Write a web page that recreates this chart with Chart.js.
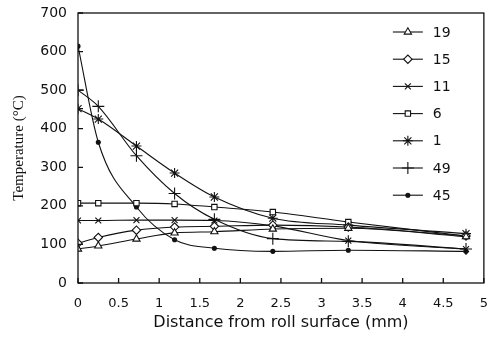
<!DOCTYPE html>
<html>
<head>
<meta charset="utf-8">
<script src="https://cdn.jsdelivr.net/npm/chart.js@4.4.1/dist/chart.umd.min.js"></script>
<style>
  body { margin: 0; background: #fff; }
</style>
</head>
<body>
<canvas id="myChart" width="493" height="338"></canvas>
<script>
// distance from roll surface (mm) where temperatures were taken
const distances = [0, 0.25, 0.72, 1.19, 1.68, 2.4, 3.33, 4.78];

const labels = ["19", "15", "11", "6", "1", "49", "45"];

const t19 = [88, 96, 114, 130, 133, 140, 142, 120];
const t15 = [103, 118, 137, 145, 147, 150, 145, 122];
const t11 = [162, 162, 163, 163, 162, 148, 110, 88];
const t6  = [207, 207, 207, 205, 197, 184, 158, 122];
const t1  = [452, 425, 355, 285, 223, 168, 150, 128];
const t49 = [500, 458, 330, 232, 165, 115, 108, 88];
const t45 = [614, 365, 197, 112, 90, 82, 85, 82];

const xTicks = [0, 0.5, 1, 1.5, 2, 2.5, 3, 3.5, 4, 4.5, 5];
const yTicks = [0, 100, 200, 300, 400, 500, 600, 700];

const seriesValues = [t19, t15, t11, t6, t1, t49, t45];
const markers = ["triangle", "rectRot", "crossRot", "rect", "star", "cross", "circle"];
const markerSize = [4.2, 4.2, 4.2, 3.8, 5, 6, 2];

const ink = "#111";

const datasets = seriesValues.map((vals, i) => ({
  label: labels[i],
  data: distances.map((d, j) => ({x: d, y: vals[j]})),
  borderColor: ink,
  borderWidth: 1.1,
  pointStyle: markers[i],
  pointRadius: markerSize[i],
  pointBorderColor: ink,
  pointBorderWidth: 1.1,
  pointBackgroundColor: markers[i] === "circle" ? ink : "#fff",
  cubicInterpolationMode: "monotone",
  fill: false
}));

// box round the plot, inward ticks and the legend inside the plot
const frame = {
  id: "frame",
  afterDraw(chart) {
    const {ctx, chartArea: a, scales: {x, y}} = chart;
    ctx.save();
    ctx.strokeStyle = ink;
    ctx.lineWidth = 1.3;
    ctx.strokeRect(a.left, a.top, a.right - a.left, a.bottom - a.top);
    ctx.beginPath();
    xTicks.forEach(v => {
      const px = x.getPixelForValue(v);
      ctx.moveTo(px, a.bottom);
      ctx.lineTo(px, a.bottom - 5);
    });
    yTicks.forEach(v => {
      const py = y.getPixelForValue(v);
      ctx.moveTo(a.left, py);
      ctx.lineTo(a.left + 5, py);
    });
    ctx.stroke();

    ctx.font = "14px 'DejaVu Sans'";
    ctx.textBaseline = "middle";
    ctx.textAlign = "left";
    chart.data.datasets.forEach((ds, i) => {
      const yy = a.top + 19 + i * 27.2;
      const x0 = a.right - 91;
      ctx.lineWidth = 1.1;
      ctx.strokeStyle = ink;
      ctx.beginPath();
      ctx.moveTo(x0, yy);
      ctx.lineTo(x0 + 30, yy);
      ctx.stroke();
      ctx.fillStyle = ds.pointBackgroundColor;
      Chart.helpers.drawPoint(ctx, {pointStyle: ds.pointStyle, radius: ds.pointRadius, borderWidth: 1.1, rotation: 0}, x0 + 15, yy);
      ctx.fillStyle = ink;
      ctx.fillText(ds.label, x0 + 40, yy + 1);
    });
    ctx.restore();
  }
};

Chart.defaults.font.family = "'DejaVu Sans'";
Chart.defaults.color = ink;

new Chart("myChart", {
  type: "line",
  data: {datasets: datasets},
  options: {
    responsive: false,
    animation: false,
    devicePixelRatio: 1,
    layout: {padding: {top: 13, right: 9, left: 0, bottom: 0}},
    plugins: {
      legend: {display: false},
      tooltip: {enabled: false}
    },
    scales: {
      x: {
        type: "linear",
        min: 0,
        max: 5,
        afterBuildTicks: s => { s.ticks = xTicks.map(v => ({value: v})); },
        ticks: {
          font: {size: 13},
          padding: 5,
          maxRotation: 0,
          autoSkip: false,
          callback: v => String(v)
        },
        grid: {display: false},
        border: {display: false},
        title: {
          display: true,
          text: "Distance from roll surface (mm)",
          font: {size: 16},
          padding: {top: 0, bottom: 6}
        },
        afterFit: s => { s.height = 55; }
      },
      y: {
        min: 0,
        max: 700,
        afterBuildTicks: s => { s.ticks = yTicks.map(v => ({value: v})); },
        ticks: {
          font: {size: 14},
          padding: 3
        },
        grid: {display: false},
        border: {display: false},
        title: {
          display: true,
          text: "Temperature (°C)",
          font: {family: "'Liberation Serif'", size: 15},
          padding: {top: 10, bottom: 0}
        },
        afterFit: s => { s.width = 78; }
      }
    }
  },
  plugins: [frame]
});
</script>
</body>
</html>
